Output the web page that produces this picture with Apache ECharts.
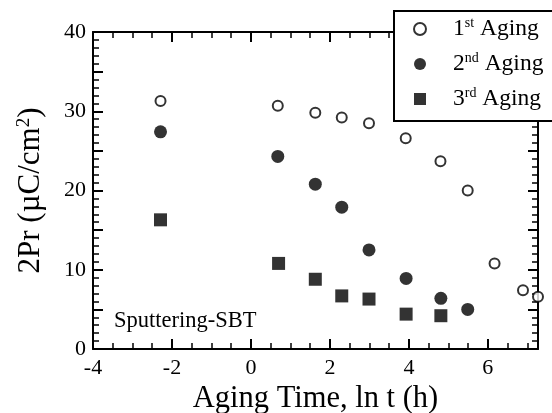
<!DOCTYPE html>
<html><head><meta charset="utf-8">
<script src="https://cdn.jsdelivr.net/npm/echarts@6/dist/echarts.min.js"></script>
<style>html,body{margin:0;padding:0;background:#fff}#c{width:552px;height:413px}</style>
</head><body><div id="c"></div>
<script>
// ln t (h) positions and 2Pr values
var aging1X = [-2.29, 0.68, 1.63, 2.30, 2.99, 3.92, 4.80, 5.49, 6.17, 6.89, 7.27];
var aging1Y = [31.3, 30.7, 29.8, 29.2, 28.5, 26.6, 23.7, 20.0, 10.8, 7.4, 6.6];
var aging2X = [-2.29, 0.68, 1.63, 2.30, 2.99, 3.93, 4.81, 5.49];
var aging2Y = [27.4, 24.3, 20.8, 17.9, 12.5, 8.9, 6.4, 5.0];
var aging3X = [-2.29, 0.70, 1.63, 2.30, 2.99, 3.93, 4.81];
var aging3Y = [16.3, 10.8, 8.8, 6.7, 6.3, 4.4, 4.2];
var seriesNames = ['1st Aging', '2nd Aging', '3rd Aging'];
var xTickLabels = ['-4', '-2', '0', '2', '4', '6'];
var yTickLabels = ['0', '10', '20', '30', '40'];

function pairs(xs, ys) { return xs.map(function (x, i) { return [x, ys[i]]; }); }

var FONT = 'Liberation Serif';
var chart = echarts.init(document.getElementById('c'), null, {renderer: 'canvas'});
var supMap = {'1st Aging': ['1', 'st'], '2nd Aging': ['2', 'nd'], '3rd Aging': ['3', 'rd']};

var tickCommon = {inside: true, length: 10, lineStyle: {color: '#000', width: 2}};
var minorCommon = {show: true, length: 6, lineStyle: {color: '#000', width: 1.5}};

chart.setOption({
  animation: false,
  backgroundColor: '#fff',
  title: {
    text: 'Sputtering-SBT', left: 109, top: 305,
    textStyle: {fontFamily: FONT, fontSize: 22.5, fontWeight: 'normal', color: '#000'}
  },
  grid: {left: 93, right: 14, top: 32, bottom: 64, containLabel: false, outerBoundsMode: 'none'},
  legend: {
    orient: 'vertical', left: 394, top: 11,
    data: seriesNames,
    itemWidth: 12, itemHeight: 12, itemGap: 10,
    padding: [5, 60, 10, 19],
    backgroundColor: '#fff', borderColor: '#000', borderWidth: 2, borderRadius: 0,
    formatter: function (n) { var s = supMap[n]; return '{n|' + s[0] + '}{s|' + s[1] + '}{n| Aging}'; },
    textStyle: {
      fontFamily: FONT, color: '#000', padding: [0, 0, 0, 22],
      rich: {
        n: {fontFamily: FONT, fontSize: 23.5, color: '#000', lineHeight: 26},
        s: {fontFamily: FONT, fontSize: 14, color: '#000', verticalAlign: 'top', lineHeight: 26}
      }
    }
  },
  xAxis: [{
    type: 'value', min: -4, max: 7.27, interval: 2,
    name: 'Aging Time, ln t (h)', nameLocation: 'middle', nameGap: 21,
    nameTextStyle: {fontFamily: FONT, fontSize: 30.5, color: '#000'},
    axisLine: {show: true, onZero: false, lineStyle: {color: '#000', width: 2}},
    axisTick: tickCommon,
    minorTick: Object.assign({splitNumber: 4}, minorCommon),
    splitLine: {show: false},
    axisLabel: {
      fontFamily: FONT, fontSize: 22, color: '#000', margin: 8,
      formatter: function (v) { var s = String(v); return xTickLabels.indexOf(s) >= 0 ? s : ''; }
    }
  }, {
    type: 'value', min: -4, max: 7.27, interval: 2, position: 'top',
    axisLine: {show: true, onZero: false, lineStyle: {color: '#000', width: 2}},
    axisTick: tickCommon,
    minorTick: Object.assign({splitNumber: 4}, minorCommon),
    splitLine: {show: false}, axisLabel: {show: false}
  }],
  yAxis: [{
    type: 'value', min: 0, max: 40, interval: 5,
    name: '2Pr (µC/cm{sup|2})', nameLocation: 'middle', nameGap: 47,
    nameTextStyle: {
      fontFamily: FONT, fontSize: 31, color: '#000',
      rich: {sup: {fontFamily: FONT, fontSize: 19, color: '#000', verticalAlign: 'top'}}
    },
    axisLine: {show: true, onZero: false, lineStyle: {color: '#000', width: 2}},
    axisTick: tickCommon,
    minorTick: Object.assign({splitNumber: 5}, minorCommon),
    splitLine: {show: false},
    axisLabel: {
      fontFamily: FONT, fontSize: 22, color: '#000', margin: 7,
      formatter: function (v) { var s = String(v); return yTickLabels.indexOf(s) >= 0 ? s : ''; }
    }
  }, {
    type: 'value', min: 0, max: 40, interval: 5, position: 'right',
    axisLine: {show: true, onZero: false, lineStyle: {color: '#000', width: 2}},
    axisTick: tickCommon,
    minorTick: Object.assign({splitNumber: 5}, minorCommon),
    splitLine: {show: false}, axisLabel: {show: false}
  }],
  series: [{
    name: seriesNames[0], type: 'scatter', symbol: 'circle', symbolSize: 10, clip: false,
    itemStyle: {color: '#fff', borderColor: '#000', borderWidth: 2},
    data: pairs(aging1X, aging1Y)
  }, {
    name: seriesNames[1], type: 'scatter', symbol: 'circle', symbolSize: 13, clip: false,
    itemStyle: {color: '#000'},
    data: pairs(aging2X, aging2Y)
  }, {
    name: seriesNames[2], type: 'scatter', symbol: 'rect', symbolSize: 13, clip: false,
    itemStyle: {color: '#000'},
    data: pairs(aging3X, aging3Y)
  }]
});
</script></body></html>
